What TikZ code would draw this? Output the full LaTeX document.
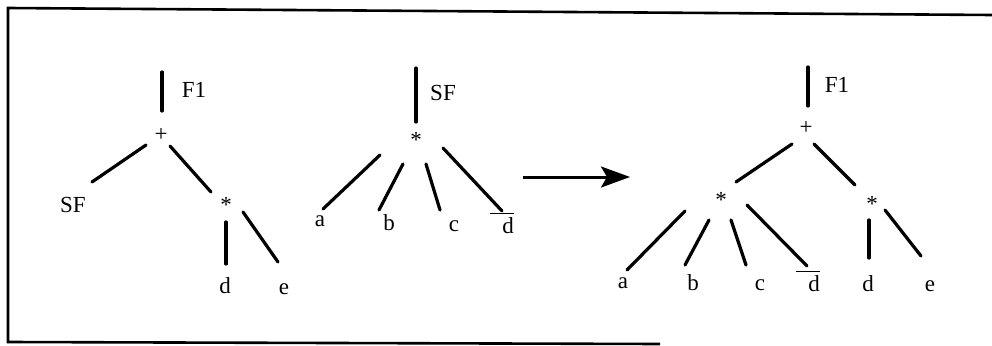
\documentclass[tikz,border=0pt]{standalone}
\usepackage{fontspec}
\setmainfont{Liberation Serif}
\usepackage{tikz}
\usetikzlibrary{arrows.meta}
\newcommand{\dbar}{\llap{\smash{\rule[0.85em]{1.05em}{1.8pt}}\kern-0.5em}d}
\newcommand{\twigline}[4]{\draw[twig] ([shift={(#2)}]#1.center) -- ([shift={(#4)}]#3.center);}

\begin{document}
\begin{tikzpicture}[x=1pt, y=-1pt,
  sym/.style={font=\fontsize{23}{27}\selectfont, inner sep=2pt},
  twig/.style={line width=3.2pt, line cap=round},
  frame/.style={line width=2.6pt},
  rewrite/.style={line width=3pt, -{Stealth[length=29pt, width=21pt, inset=6pt]}},
]
  \useasboundingbox (0,0) rectangle (992,345);
  % frame, open on the right
  \draw[frame] (992,15) -- (8,8) -- (8,342) -- (660,344);

  % left tree F1
  \coordinate (top1) at (162,72);
  \node[sym] (lab1) at (194,90) {F1};
  \node[sym] (pl1) at (161,135) {+};
  \node[sym] (sf1) at (73,205) {SF};
  \node[sym] (st1) at (226,205) {*};
  \node[sym] (d1) at (225,286) {d};
  \node[sym] (e1) at (284,289) {e};
  \twigline{top1}{0,0}{pl1}{1,-24}
  \twigline{pl1}{-15,10}{sf1}{19,-23}
  \twigline{pl1}{9,11}{st1}{-15,-13}
  \twigline{st1}{0,17}{d1}{1,-22}
  \twigline{st1}{17,7}{e1}{-6,-27}

  % middle tree SF
  \coordinate (top2) at (416,68);
  \node[sym] (lab2) at (443,93) {SF};
  \node[sym] (st2) at (416,140) {*};
  \node[sym] (a2) at (320,221) {a};
  \node[sym] (b2) at (389,223) {b};
  \node[sym] (c2) at (454,226) {c};
  \node[sym] (d2) at (508,226) {\dbar};
  \twigline{top2}{0,0}{st2}{0,-18}
  \twigline{st2}{-36,15}{a2}{3,-12}
  \twigline{st2}{-13,24}{b2}{-10,-13}
  \twigline{st2}{10,24}{c2}{-14,-16}
  \twigline{st2}{27,8}{d2}{-6,-15}

  % rewrite arrow
  \coordinate (arrs) at (523,177);
  \coordinate (arre) at (630,177);
  \draw[rewrite] (arrs) -- (arre);

  % right tree F1
  \coordinate (top3) at (808,67);
  \node[sym] (lab3) at (837,85) {F1};
  \node[sym] (pl3) at (806,128) {+};
  \node[sym] (st3) at (721,200) {*};
  \node[sym] (st4) at (872,204) {*};
  \node[sym] (a3) at (623,283) {a};
  \node[sym] (b3) at (693,283) {b};
  \node[sym] (c3) at (760,285) {c};
  \node[sym] (d3) at (814,284) {\dbar};
  \node[sym] (d4) at (868,284) {d};
  \node[sym] (e4) at (930,286) {e};
  \twigline{top3}{0,0}{pl3}{2,-22}
  \twigline{pl3}{-14,16}{st3}{15,-18}
  \twigline{pl3}{8,16}{st4}{-17,-19}
  \twigline{st3}{-36,11}{a3}{4,-13}
  \twigline{st3}{-12,20}{b3}{-8,-18}
  \twigline{st3}{10,20}{c3}{-14,-20}
  \twigline{st3}{26,5}{d3}{-7,-18}
  \twigline{st4}{-3,16}{d4}{1,-26}
  \twigline{st4}{13,6}{e4}{-9,-30}
\end{tikzpicture}
\end{document}
